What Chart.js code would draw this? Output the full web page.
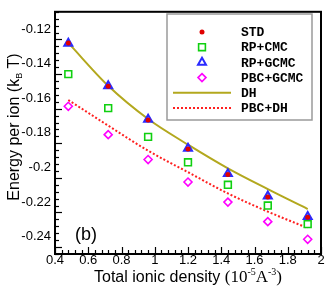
<!DOCTYPE html>
<html>
<head>
<meta charset="utf-8">
<script src="https://cdn.jsdelivr.net/npm/chart.js@4/dist/chart.umd.min.js"></script>
<style>
  html, body { margin: 0; padding: 0; background: #fff; }
</style>
</head>
<body>
<canvas id="chart" width="333" height="286"></canvas>
<script>
// values
const density = [0.48, 0.72, 0.96, 1.2, 1.44, 1.68, 1.92];
const std = [-0.128, -0.153, -0.1726, -0.1893, -0.204, -0.217, -0.2288];
const rpCmc = [-0.146, -0.1657, -0.1823, -0.197, -0.210, -0.222, -0.2327];
const rpGcmc = [-0.1283, -0.1528, -0.1722, -0.189, -0.2036, -0.2166, -0.2284];
const pbcGcmc = [-0.1646, -0.181, -0.1954, -0.2084, -0.220, -0.2313, -0.2415];
const dh = [-0.128, -0.1528, -0.172, -0.1868, -0.2005, -0.2125, -0.224];
const pbcDh = [-0.161, -0.1758, -0.1903, -0.2027, -0.215, -0.2255, -0.235];

const xTicks = [0.4, 0.6, 0.8, 1.0, 1.2, 1.4, 1.6, 1.8, 2.0];
const yTicks = [-0.24, -0.22, -0.2, -0.18, -0.16, -0.14, -0.12];

const sans = '"Liberation Sans", Arial, sans-serif';
const serif = '"Liberation Serif", "Times New Roman", serif';
const mono = '"Liberation Mono", "Courier New", monospace';

function pts(ys) {
    return density.map((x, i) => ({x: x, y: ys[i]}));
}

function fmt(v) {
    return String(+v.toFixed(2));
}

// draws a run of text pieces, some raised or lowered
function drawPieces(ctx, pieces, cx, cy) {
    var total = 0;
    pieces.forEach(p => {
        ctx.font = p.font;
        p.w = ctx.measureText(p.t).width;
        total += p.w;
    });
    var x = cx - total / 2;
    ctx.textBaseline = 'alphabetic';
    ctx.textAlign = 'left';
    pieces.forEach(p => {
        ctx.font = p.font;
        ctx.fillText(p.t, x, cy + (p.dy || 0));
        x += p.w;
    });
}

function marker(ctx, style, x, y) {
    ctx.save();
    ctx.lineWidth = style.bw;
    ctx.strokeStyle = style.border;
    ctx.fillStyle = style.fill;
    ctx.beginPath();
    var r = style.r;
    if (style.shape === 'circle') {
        ctx.arc(x, y, r, 0, Math.PI * 2);
        ctx.fill();
    } else if (style.shape === 'rect') {
        var s = r * Math.SQRT1_2;
        ctx.rect(x - s, y - s, 2 * s, 2 * s);
        ctx.fill();
        ctx.stroke();
    } else if (style.shape === 'triangle') {
        ctx.moveTo(x, y - r);
        ctx.lineTo(x + r * 0.866, y + r * 0.5);
        ctx.lineTo(x - r * 0.866, y + r * 0.5);
        ctx.closePath();
        ctx.fill();
        ctx.stroke();
    } else if (style.shape === 'rectRot') {
        ctx.moveTo(x, y - r);
        ctx.lineTo(x + r, y);
        ctx.lineTo(x, y + r);
        ctx.lineTo(x - r, y);
        ctx.closePath();
        ctx.fill();
        ctx.stroke();
    }
    ctx.restore();
}

const frameAndLegend = {
    id: 'frameAndLegend',
    afterDraw(chart) {
        const ctx = chart.ctx;
        const a = chart.chartArea;
        const xs = chart.scales.x;
        const ys = chart.scales.y;
        ctx.save();

        // inward ticks, 4 minor between majors
        ctx.strokeStyle = '#000';
        ctx.lineWidth = 1.2;
        for (var i = 0; i <= 40; i++) {
            var v = 0.4 + i * 0.04;
            var px = Math.round(xs.getPixelForValue(v)) + 0.5;
            var len = i % 5 === 0 ? 7 : 4;
            ctx.beginPath();
            ctx.moveTo(px, a.bottom);
            ctx.lineTo(px, a.bottom - len);
            ctx.stroke();
        }
        for (var j = 0; j <= 35; j++) {
            var vy = -0.25 + j * 0.004;
            var py = Math.round(ys.getPixelForValue(vy)) + 0.5;
            var ylen = (j - 1) % 5 === 0 ? 7 : 4;
            ctx.beginPath();
            ctx.moveTo(a.left, py);
            ctx.lineTo(a.left + ylen, py);
            ctx.stroke();
        }

        // frame
        ctx.lineWidth = 2;
        ctx.strokeRect(a.left, a.top, a.right - a.left, a.bottom - a.top);

        // legend box
        const lx = 167, ly = 14, lw = 145, lh = 106;
        ctx.fillStyle = '#fff';
        ctx.fillRect(lx, ly, lw, lh);
        ctx.strokeStyle = '#9a9a9a';
        ctx.lineWidth = 1.5;
        ctx.strokeRect(lx, ly, lw, lh);

        chart.data.datasets.forEach((ds, k) => {
            var cy = 32 + k * 15.2;
            if (ds.showLine) {
                ctx.save();
                ctx.strokeStyle = ds.borderColor;
                ctx.lineWidth = ds.borderWidth;
                ctx.setLineDash(ds.borderDash || []);
                ctx.beginPath();
                ctx.moveTo(173, cy);
                ctx.lineTo(231, cy);
                ctx.stroke();
                ctx.restore();
            } else {
                marker(ctx, {
                    shape: ds.pointStyle, r: ds.pointRadius, bw: ds.pointBorderWidth,
                    border: ds.pointBorderColor, fill: k === 2 ? '#fff' : ds.pointBackgroundColor
                }, 202, cy);
            }
            ctx.fillStyle = '#000';
            ctx.font = 'bold 13px ' + mono;
            ctx.textAlign = 'left';
            ctx.textBaseline = 'middle';
            ctx.fillText(ds.label, 241, cy + 1);
        });

        // panel tag
        ctx.fillStyle = '#000';
        ctx.font = '18px ' + sans;
        ctx.textAlign = 'left';
        ctx.textBaseline = 'alphabetic';
        ctx.fillText('(b)', 75, 240);

        // x title
        drawPieces(ctx, [
            {t: 'Total ionic density ', font: '16px ' + sans},
            {t: '(10', font: '17px ' + serif},
            {t: '-5', font: '10px ' + serif, dy: -7},
            {t: 'A', font: '17px ' + serif},
            {t: '-3', font: '10px ' + serif, dy: -7},
            {t: ')', font: '17px ' + serif}
        ], (a.left + a.right) / 2, 281.5);

        // y title
        ctx.translate(19, 127);
        ctx.rotate(-Math.PI / 2);
        drawPieces(ctx, [
            {t: 'Energy per ion (k', font: '16px ' + sans},
            {t: 'B', font: '9px ' + sans, dy: 3},
            {t: ' T)', font: '16px ' + sans}
        ], 0, 0);

        ctx.restore();
    }
};

function pointSet(label, ys, shape, r, border, fill, bw) {
    return {
        label: label,
        data: pts(ys),
        showLine: false,
        pointStyle: shape,
        pointRadius: r,
        pointBorderWidth: bw,
        pointBorderColor: border,
        pointBackgroundColor: fill
    };
}

const ctx = document.getElementById('chart');
new Chart(ctx, {
    type: 'scatter',
    data: {
        datasets: [
            pointSet('STD', std, 'circle', 2.5, '#e00000', '#e00000', 0),
            pointSet('RP+CMC', rpCmc, 'rect', 4.8, '#10d010', '#ffffff', 1.6),
            pointSet('RP+GCMC', rpGcmc, 'triangle', 4.6, '#2a2aff', 'rgba(70,70,255,0.45)', 2),
            pointSet('PBC+GCMC', pbcGcmc, 'rectRot', 4, '#ff00ff', '#ffffff', 1.6),
            {
                label: 'DH',
                data: pts(dh),
                showLine: true,
                borderColor: '#b3a81e',
                borderWidth: 2,
                pointRadius: 0,
                cubicInterpolationMode: 'monotone'
            },
            {
                label: 'PBC+DH',
                data: pts(pbcDh),
                showLine: true,
                borderColor: '#ff2020',
                borderWidth: 2,
                borderDash: [2, 2],
                pointRadius: 0,
                cubicInterpolationMode: 'monotone'
            }
        ]
    },
    options: {
        responsive: false,
        animation: false,
        devicePixelRatio: 1,
        layout: {padding: {top: 9, right: 12, left: 0, bottom: 0}},
        plugins: {
            legend: {display: false},
            tooltip: {enabled: false}
        },
        scales: {
            x: {
                type: 'linear',
                min: 0.4,
                max: 2.0,
                afterBuildTicks: s => { s.ticks = xTicks.map(v => ({value: v})); },
                afterFit: s => { s.height = 32; },
                grid: {display: false, drawTicks: false},
                border: {display: false},
                ticks: {
                    callback: v => fmt(v),
                    color: '#000',
                    font: {family: sans, size: 13},
                    padding: -1,
                    autoSkip: false,
                    maxRotation: 0
                }
            },
            y: {
                type: 'linear',
                min: -0.25,
                max: -0.11,
                afterBuildTicks: s => { s.ticks = yTicks.map(v => ({value: v})); },
                afterFit: s => { s.width = 55; },
                grid: {display: false, drawTicks: false},
                border: {display: false},
                ticks: {
                    callback: v => fmt(v),
                    color: '#000',
                    font: {family: sans, size: 13},
                    padding: 4,
                    autoSkip: false
                }
            }
        }
    },
    plugins: [frameAndLegend]
});
</script>
</body>
</html>
